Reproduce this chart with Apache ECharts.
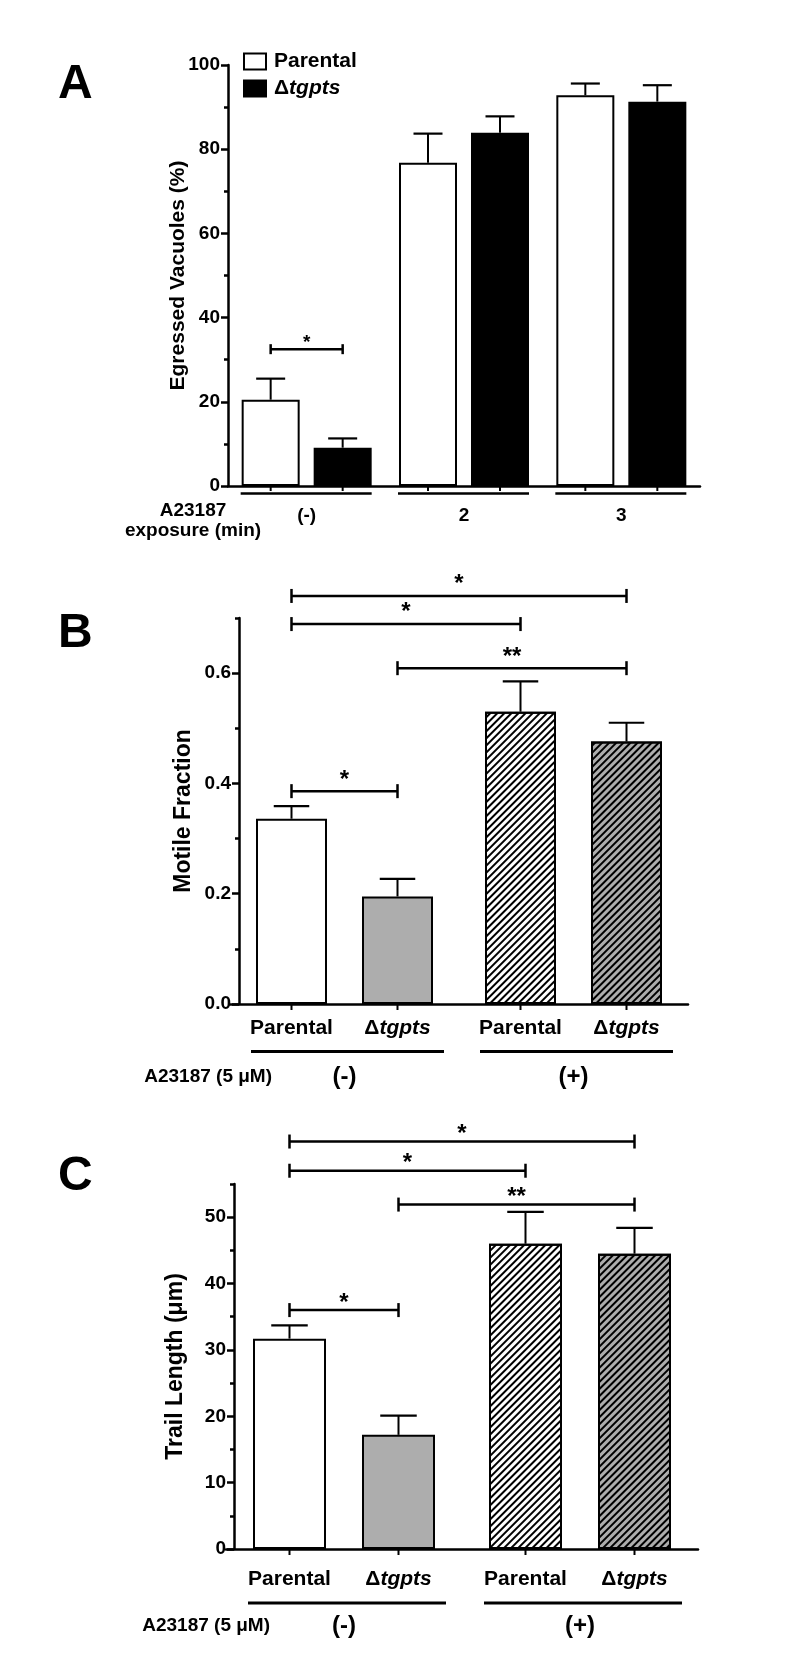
<!DOCTYPE html>
<html>
<head>
<meta charset="utf-8">
<script src="https://cdn.jsdelivr.net/npm/echarts@6/dist/echarts.min.js"></script>
<style>
html, body { margin: 0; padding: 0; background: #fff; }
#chart { width: 800px; height: 1655px; }
</style>
</head>
<body>
<div id="chart"></div>
<script>
// ---------- data ----------
// A: egress after A23187 exposure
var egressGroups = ['(-)', '2', '3'];
var egressParental = [20.5, 76.8, 92.8];
var egressParentalErr = [5.0, 6.9, 2.8];
var egressKO = [9.1, 83.9, 91.3];
var egressKOErr = [2.2, 3.9, 3.9];
var egressTicks = [0, 20, 40, 60, 80, 100];
var egressMinor = [10, 30, 50, 70, 90];
var egressSigFrom = [0];
var egressSigTo = [1];
var egressSigY = [32.5];
var egressSigMark = ['*'];

// B: motile fraction
var treatGroups = ['(-)', '(+)'];
var strainNames = ['Parental', 'Δtgpts'];
var motileParental = [0.336, 0.530];
var motileParentalErr = [0.023, 0.055];
var motileKO = [0.195, 0.476];
var motileKOErr = [0.032, 0.034];
var motileTicks = [0, 0.2, 0.4, 0.6];
var motileMinor = [0.1, 0.3, 0.5, 0.7];
var motileSigFrom = [0, 1, 0, 0];
var motileSigTo = [1, 3, 2, 3];
var motileSigY = [0.386, 0.609, 0.689, 0.740];
var motileSigMark = ['*', '**', '*', '*'];

// C: trail length
var trailParental = [31.7, 46.0];
var trailParentalErr = [2.0, 4.8];
var trailKO = [17.2, 44.5];
var trailKOErr = [2.9, 3.9];
var trailTicks = [0, 10, 20, 30, 40, 50];
var trailMinor = [5, 15, 25, 35, 45, 55];
var trailSigFrom = [0, 1, 0, 0];
var trailSigTo = [1, 3, 2, 3];
var trailSigY = [36.0, 51.9, 57.0, 61.4];
var trailSigMark = ['*', '**', '*', '*'];

// ---------- helpers ----------
var FONT = '"Liberation Sans", Arial, Helvetica, sans-serif';
var GRAY = '#adadad';

function strainText(name) {
    return name === 'Δtgpts' ? '{d|Δ}{i|tgpts}' : '{d|' + name + '}';
}
function richParts(size, key) {
    var d = {fontSize: size, fontWeight: 'bold', fontFamily: FONT};
    var i = {fontSize: size, fontWeight: 'bold', fontStyle: 'italic', fontFamily: FONT};
    d[key] = '#000';
    i[key] = '#000';
    return {d: d, i: i};
}
function hatch() {
    return {
        symbol: 'rect', symbolSize: 1, color: '#000',
        dashArrayX: [1, 0], dashArrayY: [1.7, 2.3],
        rotation: -Math.PI / 4
    };
}
// center of bar s in category cat at value y
function barX(api, cat, s, y, half) {
    var p = api.coord([cat, y]);
    return [p[0] + (s === 0 ? -half : half), p[1]];
}

function errData(par, parErr, ko, koErr) {
    var out = [];
    for (var i = 0; i < par.length; i++) {
        out.push([i, 0, par[i], parErr[i]]);
        out.push([i, 1, ko[i], koErr[i]]);
    }
    return out;
}
function decorData(n) {
    var out = [];
    for (var i = 0; i < n; i++) { out.push([i, 0]); out.push([i, 1]); }
    return out;
}
function sigData(from, to, y) {
    var out = [];
    for (var i = 0; i < from.length; i++) out.push([from[i], to[i], y[i]]);
    return out;
}

function errorBars(half, barW) {
    return function (params, api) {
        var cat = api.value(0), s = api.value(1), v = api.value(2), e = api.value(3);
        var b = barX(api, cat, s, v, half);
        var t = barX(api, cat, s, v + e, half);
        var c = barW / 4;
        return {type: 'group', children: [
            {type: 'line', shape: {x1: b[0], y1: b[1], x2: t[0], y2: t[1]}, style: {stroke: '#000', lineWidth: 2}},
            {type: 'line', shape: {x1: t[0] - c, y1: t[1], x2: t[0] + c, y2: t[1]}, style: {stroke: '#000', lineWidth: 2.2}}
        ]};
    };
}

function decor(half, barW, o) {
    return function (params, api) {
        var cat = api.value(0), s = api.value(1);
        var p = barX(api, cat, s, 0, half);
        var kids = [{type: 'line', shape: {x1: p[0], y1: p[1], x2: p[0], y2: p[1] + o.tick},
            style: {stroke: '#000', lineWidth: 2}}];
        if (o.labelGap) {
            kids.push({type: 'text', x: p[0], y: p[1] + o.labelGap, style: {
                text: strainText(strainNames[s]), rich: richParts(21, 'fill'),
                fontSize: 21, fontWeight: 'bold', fontFamily: FONT, fill: '#000',
                align: 'center', verticalAlign: 'middle'
            }});
        }
        if (s === 0) {
            var q = barX(api, cat, 1, 0, half);
            var ly = p[1] + o.lineGap;
            kids.push({type: 'line', shape: {x1: p[0] - barW / 2 - o.lineL, y1: ly, x2: q[0] + barW / 2 + o.lineR, y2: ly},
                style: {stroke: '#000', lineWidth: o.lineW}});
        }
        return {type: 'group', children: kids};
    };
}

function brackets(half, marks, o) {
    return function (params, api) {
        var from = api.value(0), to = api.value(1), y = api.value(2);
        var a = barX(api, Math.floor(from / 2), from % 2, y, half);
        var b = barX(api, Math.floor(to / 2), to % 2, y, half);
        return {type: 'group', children: [
            {type: 'line', shape: {x1: a[0], y1: a[1], x2: b[0], y2: b[1]}, style: {stroke: '#000', lineWidth: 2.5}},
            {type: 'line', shape: {x1: a[0], y1: a[1] - o.cap, x2: a[0], y2: a[1] + o.cap}, style: {stroke: '#000', lineWidth: 2.5}},
            {type: 'line', shape: {x1: b[0], y1: b[1] - o.cap, x2: b[0], y2: b[1] + o.cap}, style: {stroke: '#000', lineWidth: 2.5}},
            {type: 'text', x: (a[0] + b[0]) / 2, y: a[1] - o.above + 0.2 * o.size, style: {
                text: marks[params.dataIndex], fontSize: o.size, fontWeight: 'bold', fontFamily: FONT,
                fill: '#000', align: 'center', verticalAlign: 'middle'
            }}
        ]};
    };
}

function xAxis(gridIndex, cats, size, margin) {
    return {
        type: 'category', gridIndex: gridIndex, data: cats,
        axisLine: {lineStyle: {color: '#000', width: 2.5}},
        axisTick: {show: false},
        axisLabel: {color: '#000', fontSize: size, fontWeight: 'bold', fontFamily: FONT, margin: margin},
        splitLine: {show: false}
    };
}
// main y axis (labels, long ticks) plus an overlaid one carrying the short minor ticks
function yAxes(gridIndex, max, ticks, minor, size, fmt, name, nameSize, nameGap, shift) {
    return [{
        type: 'value', gridIndex: gridIndex, min: 0, max: max, position: 'left', offset: -shift,
        axisLine: {show: true, lineStyle: {color: '#000', width: 2.5}},
        axisTick: {show: true, length: 7, customValues: ticks, lineStyle: {color: '#000', width: 2.5}},
        axisLabel: {customValues: ticks, formatter: fmt, margin: 8, color: '#000',
            fontSize: size, fontWeight: 'bold', fontFamily: FONT},
        splitLine: {show: false},
        name: name, nameLocation: 'middle', nameRotate: 90, nameGap: nameGap, nameMoveOverlap: false,
        nameTextStyle: {color: '#000', fontSize: nameSize, fontWeight: 'bold', fontFamily: FONT}
    }, {
        type: 'value', gridIndex: gridIndex, min: 0, max: max, position: 'left', offset: -shift,
        axisLine: {show: false}, axisLabel: {show: false}, splitLine: {show: false},
        axisTick: {show: true, length: 4, customValues: minor, lineStyle: {color: '#000', width: 2.5}}
    }];
}
function intFmt(v) { return String(Math.round(v)); }
function oneFmt(v) { return v.toFixed(1); }

// B and C bar series: white / gray, hatched when A23187 present
function treatBars(name, values, axisIdx, barW, gap, fill) {
    return {
        type: 'bar', name: name, xAxisIndex: axisIdx, yAxisIndex: axisIdx * 2,
        barWidth: barW, barGap: (gap / barW * 100) + '%', z: 2,
        data: values.map(function (v, i) {
            var st = {color: fill, borderColor: '#000', borderWidth: 2};
            if (i === 1) st.decal = hatch();
            return {value: v, itemStyle: st};
        })
    };
}

// layout constants (pixels)
var A_BAR = 58, A_GAP = 14, A_HALF = (A_BAR + A_GAP) / 2;
var B_BAR = 71, B_GAP = 35, B_HALF = (B_BAR + B_GAP) / 2;
var C_BAR = 73, C_GAP = 36, C_HALF = (C_BAR + C_GAP) / 2;

var chart = echarts.init(document.getElementById('chart'));

var option = {
    backgroundColor: '#fff',
    animation: false,
    textStyle: {fontFamily: FONT},
    grid: [
        {left: 228, top: 65, width: 472, height: 421},
        {left: 230, top: 618, width: 458, height: 386},
        {left: 226, top: 1184, width: 472, height: 365}
    ],
    legend: {
        data: ['Parental', 'Δtgpts'],
        orient: 'vertical', left: 243, top: 51, padding: 0,
        icon: 'rect', itemWidth: 22, itemHeight: 16, itemGap: 6,
        formatter: function (name) { return strainText(name); },
        textStyle: {color: '#000', fontSize: 21, fontWeight: 'bold', fontFamily: FONT,
            padding: [0, 0, 0, 3], rich: richParts(21, 'color')}
    },
    xAxis: [
        xAxis(0, egressGroups, 19, 20),
        xAxis(1, treatGroups, 24, 61),
        xAxis(2, treatGroups, 24, 65)
    ],
    yAxis: []
        .concat(yAxes(0, 100, egressTicks, egressMinor, 19, intFmt, 'Egressed Vacuoles (%)', 21, 39, 0))
        .concat(yAxes(1, 0.7, motileTicks, motileMinor, 19, oneFmt, 'Motile Fraction', 23, 44, 9))
        .concat(yAxes(2, 55, trailTicks, trailMinor, 19, intFmt, 'Trail Length (μm)', 23, 47, 8)),
    series: [
        // A
        {type: 'bar', name: 'Parental', xAxisIndex: 0, yAxisIndex: 0, data: egressParental,
            barWidth: A_BAR, barGap: (A_GAP / A_BAR * 100) + '%', z: 2,
            itemStyle: {color: '#fff', borderColor: '#000', borderWidth: 2}},
        {type: 'bar', name: 'Δtgpts', xAxisIndex: 0, yAxisIndex: 0, data: egressKO,
            barWidth: A_BAR, barGap: (A_GAP / A_BAR * 100) + '%', z: 2,
            itemStyle: {color: '#000', borderColor: '#000', borderWidth: 2}},
        {type: 'custom', xAxisIndex: 0, yAxisIndex: 0, z: 3, clip: false, encode: {x: 0, y: 2},
            data: errData(egressParental, egressParentalErr, egressKO, egressKOErr),
            renderItem: errorBars(A_HALF, A_BAR)},
        {type: 'custom', xAxisIndex: 0, yAxisIndex: 0, z: 3, clip: false, encode: {x: 0, y: 1},
            data: decorData(egressGroups.length),
            renderItem: decor(A_HALF, A_BAR, {tick: 5, lineGap: 7.5, lineW: 2.5, lineL: 1, lineR: 0})},
        {type: 'custom', xAxisIndex: 0, yAxisIndex: 0, z: 3, clip: false, encode: {x: 0, y: 2},
            data: sigData(egressSigFrom, egressSigTo, egressSigY),
            renderItem: brackets(A_HALF, egressSigMark, {cap: 5, above: 10, size: 19})},

        // B
        treatBars('B Parental', motileParental, 1, B_BAR, B_GAP, '#fff'),
        treatBars('B Δtgpts', motileKO, 1, B_BAR, B_GAP, GRAY),
        {type: 'custom', xAxisIndex: 1, yAxisIndex: 2, z: 3, clip: false, encode: {x: 0, y: 2},
            data: errData(motileParental, motileParentalErr, motileKO, motileKOErr),
            renderItem: errorBars(B_HALF, B_BAR)},
        {type: 'custom', xAxisIndex: 1, yAxisIndex: 2, z: 3, clip: false, encode: {x: 0, y: 1},
            data: decorData(treatGroups.length),
            renderItem: decor(B_HALF, B_BAR, {tick: 6, labelGap: 24.5, lineGap: 47.5, lineW: 3, lineL: 5, lineR: 11})},
        {type: 'custom', xAxisIndex: 1, yAxisIndex: 2, z: 3, clip: false, encode: {x: 0, y: 2},
            data: sigData(motileSigFrom, motileSigTo, motileSigY),
            renderItem: brackets(B_HALF, motileSigMark, {cap: 7, above: 16, size: 24})},

        // C
        treatBars('C Parental', trailParental, 2, C_BAR, C_GAP, '#fff'),
        treatBars('C Δtgpts', trailKO, 2, C_BAR, C_GAP, GRAY),
        {type: 'custom', xAxisIndex: 2, yAxisIndex: 4, z: 3, clip: false, encode: {x: 0, y: 2},
            data: errData(trailParental, trailParentalErr, trailKO, trailKOErr),
            renderItem: errorBars(C_HALF, C_BAR)},
        {type: 'custom', xAxisIndex: 2, yAxisIndex: 4, z: 3, clip: false, encode: {x: 0, y: 1},
            data: decorData(treatGroups.length),
            renderItem: decor(C_HALF, C_BAR, {tick: 6, labelGap: 30.5, lineGap: 54, lineW: 3, lineL: 5, lineR: 11})},
        {type: 'custom', xAxisIndex: 2, yAxisIndex: 4, z: 3, clip: false, encode: {x: 0, y: 2},
            data: sigData(trailSigFrom, trailSigTo, trailSigY),
            renderItem: brackets(C_HALF, trailSigMark, {cap: 7, above: 12, size: 24})}
    ],
    graphic: [
        {type: 'text', x: 58, y: 85, style: {text: 'A', font: 'bold 48px ' + FONT, fill: '#000', verticalAlign: 'middle'}},
        {type: 'text', x: 58, y: 634, style: {text: 'B', font: 'bold 48px ' + FONT, fill: '#000', verticalAlign: 'middle'}},
        {type: 'text', x: 58, y: 1177, style: {text: 'C', font: 'bold 48px ' + FONT, fill: '#000', verticalAlign: 'middle'}},
        {type: 'text', x: 193, y: 511, style: {text: 'A23187', font: 'bold 19px ' + FONT, fill: '#000', align: 'center', verticalAlign: 'middle'}},
        {type: 'text', x: 193, y: 531, style: {text: 'exposure (min)', font: 'bold 19px ' + FONT, fill: '#000', align: 'center', verticalAlign: 'middle'}},
        {type: 'text', x: 272, y: 1077, style: {text: 'A23187 (5 μM)', font: 'bold 19px ' + FONT, fill: '#000', align: 'right', verticalAlign: 'middle'}},
        {type: 'text', x: 270, y: 1626, style: {text: 'A23187 (5 μM)', font: 'bold 19px ' + FONT, fill: '#000', align: 'right', verticalAlign: 'middle'}}
    ]
};

chart.setOption(option);
</script>
</body>
</html>
